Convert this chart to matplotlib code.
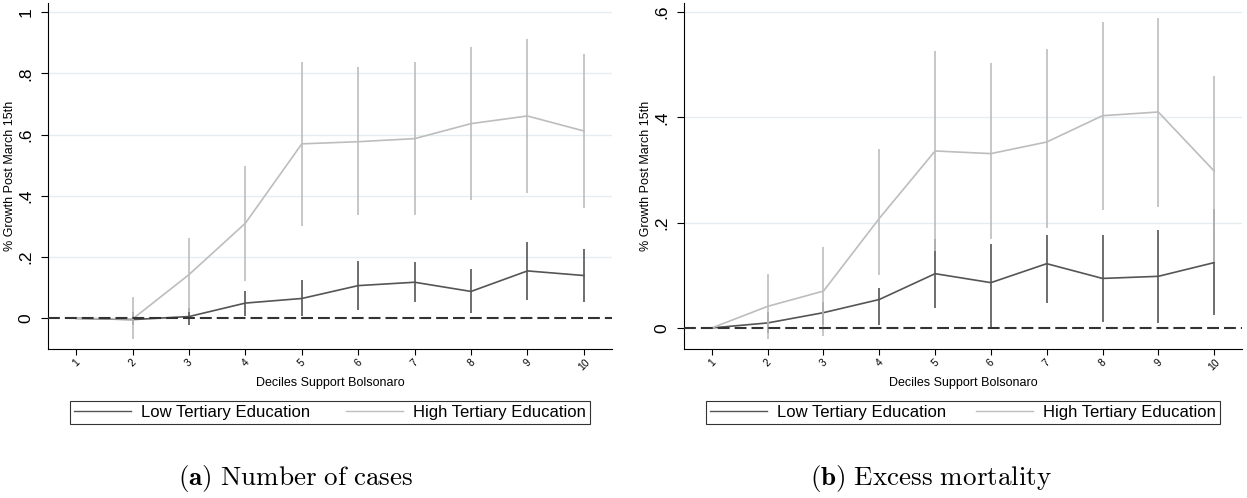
import matplotlib
matplotlib.use('Agg')
from matplotlib import pyplot as plt
from matplotlib.lines import Line2D

plt.rcParams['font.family'] = ['Liberation Sans', 'DejaVu Sans']
plt.rcParams['mathtext.fontset'] = 'cm'

deciles = [1, 2, 3, 4, 5, 6, 7, 8, 9, 10]

# (a) Number of cases
cases_low = [0, -0.004, 0.006, 0.05, 0.065, 0.107, 0.118, 0.088, 0.155, 0.14]
cases_low_hi = [0, 0.02, 0.035, 0.09, 0.125, 0.189, 0.185, 0.16, 0.249, 0.227]
cases_low_lo = [0, -0.023, -0.022, 0.009, 0.009, 0.027, 0.052, 0.016, 0.061, 0.052]
cases_high = [0, -0.002, 0.143, 0.311, 0.570, 0.577, 0.587, 0.636, 0.661, 0.612]
cases_high_hi = [0, 0.07, 0.263, 0.497, 0.837, 0.821, 0.837, 0.887, 0.911, 0.863]
cases_high_lo = [0, -0.068, 0.02, 0.123, 0.303, 0.336, 0.336, 0.385, 0.41, 0.36]

# (b) Excess mortality
mort_low = [0, 0.0095, 0.029, 0.054, 0.103, 0.086, 0.122, 0.094, 0.098, 0.124]
mort_low_hi = [0, 0.03, 0.05, 0.075, 0.168, 0.16, 0.176, 0.176, 0.186, 0.225]
mort_low_lo = [0, -0.01, 0.005, 0.005, 0.038, 0.0, 0.047, 0.011, 0.009, 0.024]
mort_high = [0, 0.041, 0.07, 0.208, 0.336, 0.331, 0.353, 0.403, 0.41, 0.298]
mort_high_hi = [0, 0.103, 0.154, 0.34, 0.525, 0.503, 0.53, 0.58, 0.588, 0.479]
mort_high_lo = [0, -0.021, -0.016, 0.1, 0.146, 0.168, 0.19, 0.224, 0.23, 0.125]

low_color = '#555555'
high_color = '#bdbdbd'
grid_color = '#e4eef0'


def draw_panel(ax, low, low_lo, low_hi, high, high_lo, high_hi, yticks, yticklabels, ylim):
    ax.vlines(deciles, low_lo, low_hi, color=low_color, linewidth=1.2, zorder=3)
    ax.plot(deciles, low, color=low_color, linewidth=1.2, zorder=3)
    ax.vlines(deciles, high_lo, high_hi, color=high_color, linewidth=1.2, zorder=4)
    ax.plot(deciles, high, color=high_color, linewidth=1.2, zorder=4)
    ax.axhline(0, color='#333333', linewidth=1.5, linestyle=(0, (5.7, 2.4)), zorder=5)

    ax.set_xlim(0.5, 10.5)
    ax.set_ylim(*ylim)
    ax.set_yticks(yticks)
    ax.set_yticklabels(yticklabels, rotation=90, va='center', fontsize=12.5)
    ax.set_xticks(deciles)
    ax.set_xticklabels([str(d) for d in deciles], rotation=45, fontsize=7.5)
    for y in yticks[1:]:
        ax.axhline(y, color=grid_color, linewidth=1, zorder=1)

    ax.spines['top'].set_visible(False)
    ax.spines['right'].set_visible(False)
    ax.tick_params(axis='y', length=5, pad=5.5)
    ax.tick_params(axis='x', length=4, pad=2)
    ax.set_xlabel('Deciles Support Bolsonaro', fontsize=9, labelpad=3)
    ax.set_ylabel('% Growth Post March 15th', fontsize=9, labelpad=2)


fig = plt.figure(figsize=(12.47, 4.98), dpi=100)
ax1 = fig.add_axes([0.0385, 0.2992, 0.4523, 0.6948])
ax2 = fig.add_axes([0.5485, 0.2992, 0.4475, 0.6948])

draw_panel(ax1, cases_low, cases_low_lo, cases_low_hi,
           cases_high, cases_high_lo, cases_high_hi,
           [0, 0.2, 0.4, 0.6, 0.8, 1], ['0', '.2', '.4', '.6', '.8', '1'], (-0.1, 1.03))
draw_panel(ax2, mort_low, mort_low_lo, mort_low_hi,
           mort_high, mort_high_lo, mort_high_hi,
           [0, 0.2, 0.4, 0.6], ['0', '.2', '.4', '.6'], (-0.04, 0.617))

handles = [Line2D([], [], color=low_color, linewidth=1.0),
           Line2D([], [], color=high_color, linewidth=1.0)]
labels = ['Low Tertiary Education', 'High Tertiary Education']
for x0, w in [(0.0561, 0.417), (0.5662, 0.412)]:
    leg = fig.legend(handles, labels, loc='lower left', bbox_to_anchor=(x0, 0.1486, w, 0.0622),
                     mode='expand', ncol=2, fontsize=12, frameon=True, fancybox=False,
                     handlelength=3.4, handletextpad=0.6, borderaxespad=0, borderpad=0.25,
                     columnspacing=2)
    leg.get_frame().set_edgecolor('black')
    leg.get_frame().set_linewidth(0.8)

fig.text(0.237, 0.04, r'$\mathbf{(a)}\ \mathrm{Number\ of\ cases}$', ha='center', va='center', fontsize=19.5)
fig.text(0.7466, 0.04, r'$\mathbf{(b)}\ \mathrm{Excess\ mortality}$', ha='center', va='center', fontsize=19.5)

plt.savefig('out.png', dpi=100)
